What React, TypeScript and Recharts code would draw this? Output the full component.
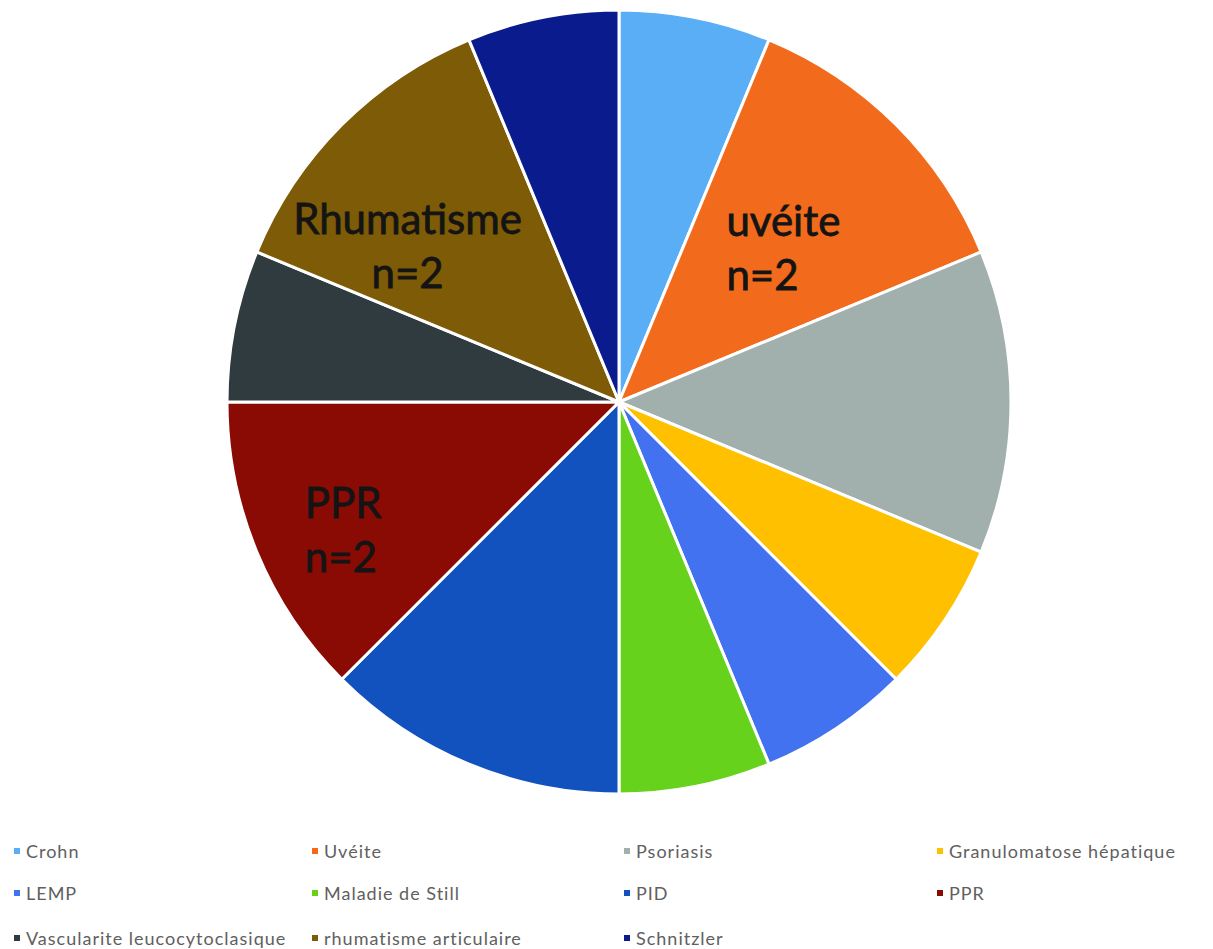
import React from 'react';
import { PieChart, Pie, Cell, Legend } from 'recharts';

const categories = [
  'Crohn',
  'Uvéite',
  'Psoriasis',
  'Granulomatose hépatique',
  'LEMP',
  'Maladie de Still',
  'PID',
  'PPR',
  'Vascularite leucocytoclasique',
  'rhumatisme articulaire',
  'Schnitzler',
];

const counts = [1, 2, 2, 1, 1, 1, 2, 2, 1, 2, 1];

const colors = [
  '#5aaef6',
  '#f26b1c',
  '#a1afad',
  '#ffc000',
  '#4372f0',
  '#67d21b',
  '#1252bf',
  '#8a0b03',
  '#2f3b3e',
  '#7e5b06',
  '#0a1b8e',
];

// text drawn inside some slices
const sliceLabels: Record<string, string[]> = {
  'Uvéite': ['uvéite', 'n=2'],
  'rhumatisme articulaire': ['Rhumatisme', 'n=2'],
  'PPR': ['PPR', 'n=2'],
};

const labelLayout: Record<string, { f: number; dx: number; dy: number; anchor: 'start' | 'middle' }> = {
  'Uvéite': { f: 0.55, dx: -45, dy: -14, anchor: 'start' },
  'rhumatisme articulaire': { f: 0.55, dx: -59, dy: -16, anchor: 'middle' },
  'PPR': { f: 0.55, dx: -115, dy: 33, anchor: 'start' },
};

const data = categories.map((name, i) => ({ name, value: counts[i] }));

const RAD = Math.PI / 180;

function renderLabel(props: any) {
  const { cx, cy, midAngle, outerRadius, name } = props;
  const lines = sliceLabels[name];
  if (!lines) return null;
  const lay = labelLayout[name];
  const r = outerRadius * lay.f;
  const x = cx + r * Math.cos(-midAngle * RAD) + lay.dx;
  const y = cy + r * Math.sin(-midAngle * RAD) + lay.dy;
  return (
    <text
      x={x}
      y={y}
      textAnchor={lay.anchor}
      fill="#141414"
      fontFamily="Lato, 'Open Sans', sans-serif"
      fontSize={42}
      stroke="#141414"
      strokeWidth={0.8}
    >
      {lines.map((t, k) => (
        <tspan key={k} x={x} y={y + k * 54}>
          {t}
        </tspan>
      ))}
    </text>
  );
}

const legendCols = [14, 312, 624, 937];
const legendRows = [851, 893, 938];
const LEGEND_TOP = 830;

function LegendGrid() {
  return (
    <div style={{ position: 'relative', width: 1213, height: 115 }}>
      {categories.map((name, i) => {
        const col = i % 4;
        const row = Math.floor(i / 4);
        return (
          <div
            key={name}
            style={{
              position: 'absolute',
              left: legendCols[col],
              top: legendRows[row] - LEGEND_TOP - 11,
              display: 'flex',
              alignItems: 'center',
              fontFamily: "Lato, 'Open Sans', sans-serif",
              fontSize: 18,
              lineHeight: '22px',
              letterSpacing: 1,
              color: '#606060',
              whiteSpace: 'nowrap',
            }}
          >
            <span
              style={{
                display: 'inline-block',
                width: 6,
                height: 6,
                background: colors[i],
                marginRight: 6,
              }}
            />
            {name}
          </div>
        );
      })}
    </div>
  );
}

export default function App() {
  return (
    <div style={{ margin: '-8px 0 0 -8px', width: 1213, height: 949, background: '#fff' }}>
      <PieChart width={1213} height={949} margin={{ top: 0, right: 0, bottom: 0, left: 0 }}>
        <Pie
          data={data}
          dataKey="value"
          nameKey="name"
          cx={619}
          cy={402}
          outerRadius={392}
          startAngle={90}
          endAngle={-270}
          stroke="#ffffff"
          strokeWidth={3}
          label={renderLabel}
          labelLine={false}
          isAnimationActive={false}
        >
          {data.map((d, i) => (
            <Cell key={d.name} fill={colors[i]} />
          ))}
        </Pie>
        <Legend
          content={() => <LegendGrid />}
          wrapperStyle={{ position: 'absolute', left: 0, top: LEGEND_TOP, width: 1213, height: 115 }}
        />
      </PieChart>
    </div>
  );
}
